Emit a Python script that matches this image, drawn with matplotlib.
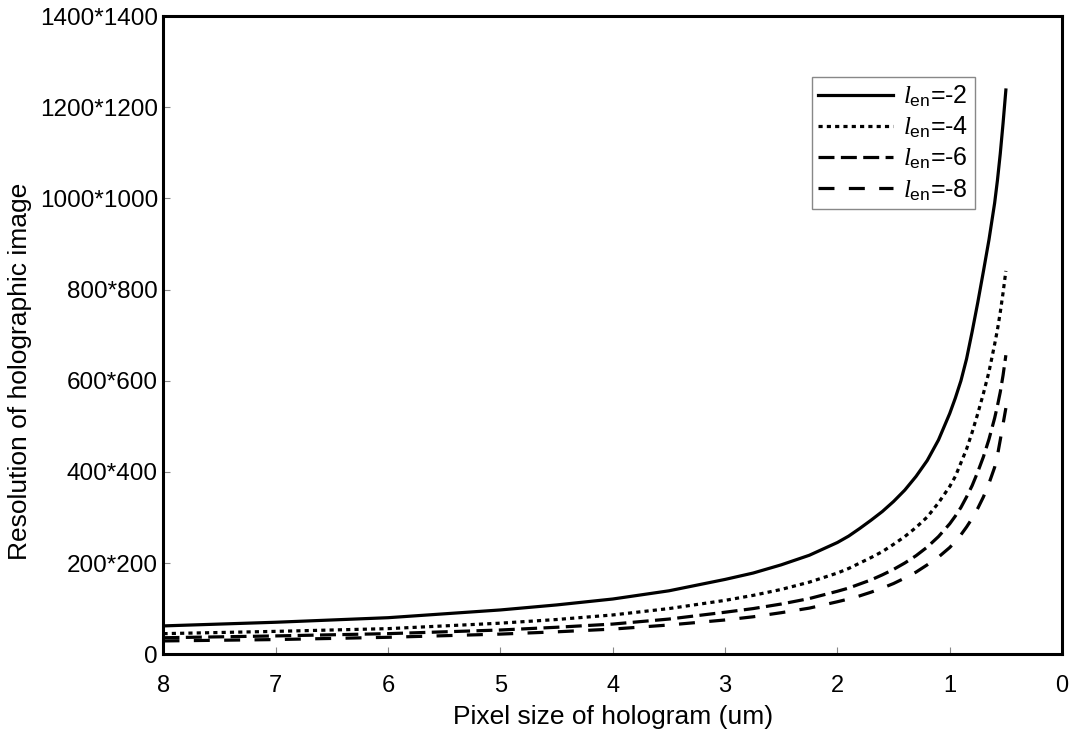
import matplotlib
matplotlib.use("Agg")
import matplotlib.pyplot as plt

plt.rcParams['font.family'] = ['Liberation Sans', 'DejaVu Sans']
plt.rcParams['mathtext.fontset'] = 'custom'
plt.rcParams['mathtext.rm'] = 'Liberation Sans'
plt.rcParams['mathtext.it'] = 'Liberation Serif:italic'

# pixel size of hologram (um)
pixel = [8, 7, 6, 5, 4.5, 4, 3.5, 3, 2.75, 2.5, 2.25, 2, 1.9, 1.8, 1.7, 1.6,
         1.5, 1.4, 1.3, 1.2, 1.1, 1.0, 0.95, 0.9, 0.85, 0.8, 0.75, 0.7,
         0.65, 0.6, 0.575, 0.55, 0.525, 0.5]

# resolution, one list per l_en
res_m2 = [62, 70, 80, 97, 108, 121, 139, 164, 178, 196, 217, 245, 259, 276,
          294, 313, 335, 360, 390, 425, 470, 528, 562, 600, 648, 708, 772,
          840, 910, 990, 1040, 1098, 1165, 1238]
res_m4 = [45, 50, 56, 68, 76, 86, 100, 118, 129, 142, 158, 178, 188, 200,
          212, 225, 241, 258, 278, 301, 332, 368, 390, 420, 450, 487, 528,
          572, 620, 680, 712, 750, 793, 841]
res_m6 = [36, 40, 45, 53, 59, 66, 77, 92, 100, 110, 122, 138, 145, 154,
          163, 174, 186, 200, 216, 235, 258, 286, 303, 322, 345, 370, 400,
          433, 472, 518, 545, 575, 612, 656]
res_m8 = [29, 32, 37, 44, 49, 55, 64, 75, 82, 91, 101, 115, 121, 128,
          136, 145, 155, 167, 180, 196, 213, 234, 247, 262, 279, 298, 320,
          345, 375, 410, 436, 470, 505, 540]

yticks = [0, 200, 400, 600, 800, 1000, 1200, 1400]
ylabels = ["0"] + ["%d*%d" % (v, v) for v in yticks[1:]]
xticks = [8, 7, 6, 5, 4, 3, 2, 1, 0]

fig = plt.figure(figsize=(10.72, 7.35), dpi=100)
ax = fig.add_axes([0.1525, 0.110, 0.8382, 0.868])

lw = 2.3
ax.plot(pixel, res_m2, color="black", lw=lw, label=r"$l_{\mathrm{en}}$=-2")
ax.plot(pixel, res_m4, color="black", lw=lw, dashes=(1.3, 1.3),
        label=r"$l_{\mathrm{en}}$=-4")
ax.plot(pixel, res_m6, color="black", lw=lw, dashes=(5, 2),
        label=r"$l_{\mathrm{en}}$=-6")
ax.plot(pixel, res_m8, color="black", lw=lw, dashes=(5, 4.5),
        label=r"$l_{\mathrm{en}}$=-8")

ax.set_xlim(8, 0)
ax.set_ylim(0, 1400)
ax.set_xticks(xticks)
ax.set_xticklabels([str(v) for v in xticks], fontsize=17)
ax.set_yticks(yticks)
ax.set_yticklabels(ylabels, fontsize=17.5)
ax.tick_params(direction="in", length=5, width=0.8, color="#888888")
ax.tick_params(axis="x", pad=15)
ax.tick_params(axis="y", pad=4)
for s in ax.spines.values():
    s.set_linewidth(2.2)

ax.set_xlabel("Pixel size of hologram (um)", fontsize=19)
ax.xaxis.set_label_coords(0.5, -0.079)
ax.set_ylabel("Resolution of holographic image", fontsize=19)
ax.yaxis.set_label_coords(-0.146, 0.444)

leg = ax.legend(loc="upper right", bbox_to_anchor=(0.903, 0.904),
                borderaxespad=0, fontsize=18, handlelength=3.0,
                fancybox=False, framealpha=1, edgecolor="#888888",
                labelspacing=0.22, borderpad=0.25, handletextpad=0.4)
leg.get_frame().set_linewidth(1.0)

fig.savefig("out.png", dpi=100)
